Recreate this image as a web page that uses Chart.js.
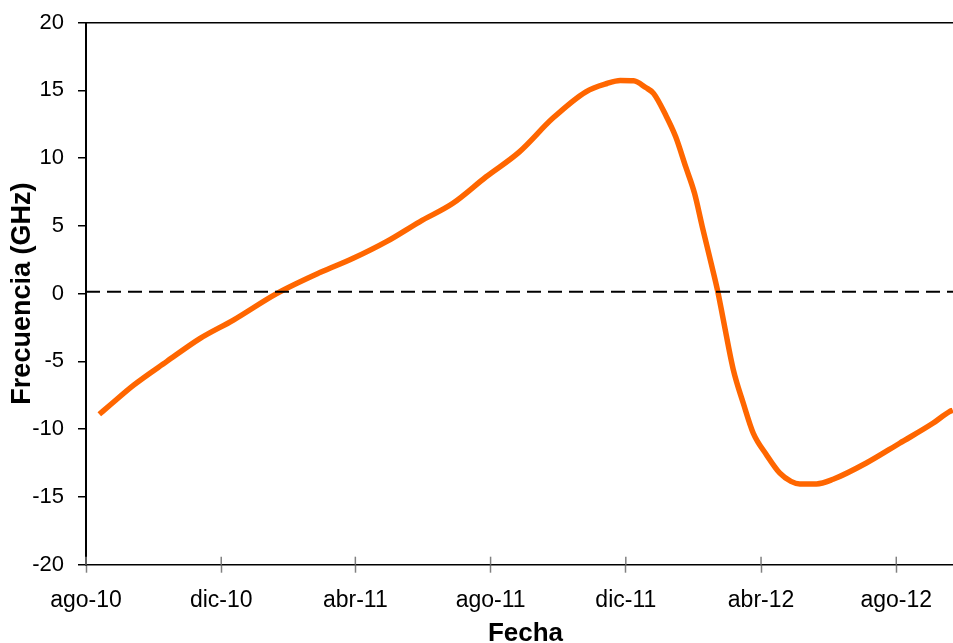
<!DOCTYPE html>
<html lang="es">
<head>
<meta charset="utf-8">
<title>Frecuencia</title>
<script src="https://cdn.jsdelivr.net/npm/chart.js@4.4.1/dist/chart.umd.min.js"></script>
<style>
  html, body { margin: 0; padding: 0; background: #fff; overflow: hidden; }
  #caja { width: 953px; height: 643px; overflow: hidden; }
</style>
</head>
<body>
<div id="caja"><canvas id="grafico" width="965" height="643"></canvas></div>
<script>
// días contados desde el 1-ago-2010
const dias = [12, 22, 43, 73, 103, 133, 172, 211, 241, 271, 301, 331, 361, 391, 421, 451, 470, 482,
  494, 505, 512, 523, 532, 541, 549, 556, 564, 570, 575, 584, 593, 602, 614, 626, 636, 644,
  659, 674, 704, 734, 764, 779, 782];
const frecuencia = [-8.9, -8.2, -6.75, -5.0, -3.3, -1.95, 0.0, 1.55, 2.6, 3.83, 5.3, 6.66, 8.62, 10.46, 12.93, 14.89, 15.5, 15.72,
  15.7, 15.2, 14.77, 13.17, 11.57, 9.36, 7.4, 4.93, 2.23, 0.14, -1.95, -5.63, -8.09, -10.3, -11.9, -13.25, -13.85, -14.04,
  -14.04, -13.7, -12.5, -11.04, -9.57, -8.7, -8.6];

// marcas del eje X
const diasEtiquetas = [0, 122, 243, 365, 487, 609, 731];
const etiquetasFechas = ["ago-10", "dic-10", "abr-11", "ago-11", "dic-11", "abr-12", "ago-12"];

// línea de referencia punteada
const lineaCero = 0.14;
const diaFinal = 793;

const puntos = dias.map((d, i) => ({ x: d, y: frecuencia[i] }));

// marcas que cruzan el eje X hacia dentro
const marcasInternas = {
  id: "marcasInternas",
  afterDraw(chart) {
    const ctx = chart.ctx;
    const ejeX = chart.scales.x;
    ctx.save();
    ctx.strokeStyle = "#808080";
    ctx.lineWidth = 1.5;
    diasEtiquetas.forEach(d => {
      const px = ejeX.getPixelForValue(d);
      ctx.beginPath();
      ctx.moveTo(px, ejeX.top);
      ctx.lineTo(px, ejeX.top - 8);
      ctx.stroke();
    });
    ctx.restore();
  }
};

new Chart(document.getElementById("grafico").getContext("2d"), {
  type: "line",
  data: {
    datasets: [
      {
        label: "cero",
        data: [{ x: 0, y: lineaCero }, { x: diaFinal, y: lineaCero }],
        borderColor: "#000",
        borderWidth: 2,
        borderDash: [14, 7],
        pointRadius: 0,
        order: 0
      },
      {
        label: "Frecuencia",
        data: puntos,
        borderColor: "#FF6600",
        borderWidth: 5.5,
        pointRadius: 0,
        cubicInterpolationMode: "monotone",
        order: 1
      }
    ]
  },
  options: {
    responsive: false,
    animation: false,
    layout: { padding: { top: 22.5, right: 0, bottom: 0, left: 0 } },
    plugins: { legend: { display: false }, tooltip: { enabled: false } },
    scales: {
      x: {
        type: "linear",
        min: 0,
        max: diaFinal,
        afterBuildTicks: scale => { scale.ticks = diasEtiquetas.map(v => ({ value: v })); },
        afterFit: scale => { scale.height = 78.3; scale.paddingLeft = 0; scale.paddingRight = 0; },
        ticks: {
          autoSkip: false,
          maxRotation: 0,
          padding: 14,
          color: "#000",
          font: { family: "'Liberation Sans', Arial", size: 23 },
          callback: (v, i) => etiquetasFechas[i]
        },
        grid: { drawOnChartArea: false, tickLength: 8, tickColor: "#808080", tickWidth: 1.5 },
        border: { color: "#000", width: 1.5 },
        title: {
          display: true,
          text: "Fecha",
          color: "#000",
          font: { family: "'Liberation Sans', Arial", size: 26, weight: "bold", lineHeight: 1 },
          padding: { top: 0, bottom: -4 }
        }
      },
      y: {
        min: -20,
        max: 20,
        afterFit: scale => { scale.width = 86; scale.paddingTop = 0; scale.paddingBottom = 0; },
        ticks: {
          stepSize: 5,
          padding: 14,
          color: "#000",
          font: { family: "'Liberation Sans', Arial", size: 22 }
        },
        grid: {
          tickLength: 8,
          tickColor: "#000",
          tickWidth: 1.5,
          lineWidth: 1.5,
          color: ctx => (ctx.tick && ctx.tick.value === 20 ? "#000" : "rgba(0,0,0,0)")
        },
        border: { color: "#000", width: 2 },
        title: {
          display: true,
          text: "Frecuencia (GHz)",
          color: "#000",
          font: { family: "'Liberation Sans', Arial", size: 27, weight: "bold" },
          padding: { top: 6, bottom: 0 }
        }
      }
    }
  },
  plugins: [marcasInternas]
});
</script>
</body>
</html>
